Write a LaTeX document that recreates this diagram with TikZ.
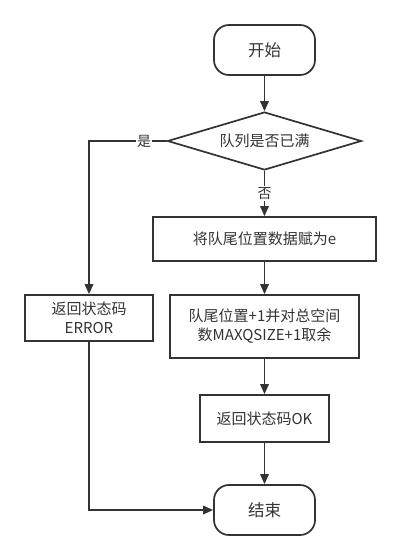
\documentclass[tikz,border=0pt]{standalone}
\usepackage{fontspec}
\setmainfont{Noto Sans CJK SC}
\usetikzlibrary{arrows.meta,shapes.geometric}
\definecolor{ink}{HTML}{333333}
\tikzset{
  x=1pt,y=-1pt,
  base/.style={draw=ink,line width=1.7pt,text=ink,font=\fontsize{15}{19}\selectfont,align=center,inner sep=0pt},
  term/.style={base,rounded corners=15pt,minimum width=101pt,minimum height=50pt,font=\fontsize{16.5}{20}\selectfont},
  proc/.style={base},
  dec/.style={base,diamond,aspect=3.34,minimum width=194pt,minimum height=58pt},
  flow/.style={draw=ink,line width=1.7pt,-{Triangle[length=10pt,width=8.5pt]}},
  lab/.style={text=ink,font=\fontsize{14}{16}\selectfont,fill=white,inner sep=1pt}
}
\begin{document}
\begin{tikzpicture}
\useasboundingbox (0,0) rectangle (401,560);
\node[term] (start) at (264.5,50) {开始};
\node[dec] (cond) at (264.5,141) {队列是否已满};
\node[proc,minimum width=223pt,minimum height=44pt] (p1) at (264.5,239) {将队尾位置数据赋为e};
\node[proc,minimum width=189pt,minimum height=63pt] (p2) at (264.5,326.5) {队尾位置+1并对总空间\\数MAXQSIZE+1取余};
\node[proc,minimum width=129pt,minimum height=47pt] (p3) at (264.5,418.5) {返回状态码OK};
\node[term] (stop) at (264.5,510) {结束};
\node[proc,minimum width=128pt,minimum height=46pt] (err) at (89,318) {返回状态码\\ERROR};
\coordinate (c1) at (89,141);
\coordinate (c2) at (89,510);
\draw[flow] (start) -- (cond);
\draw[flow] (cond.south) -- node[lab,pos=0.5]{否} (p1.north);
\draw[flow] (p1) -- (p2);
\draw[flow] (p2) -- (p3);
\draw[flow] (p3) -- (stop);
\draw[flow] (cond.west) -- node[lab,pos=0.29]{是} (c1) -- (err.north);
\draw[flow] (err.south) -- (c2) -- (stop.west);
\end{tikzpicture}
\end{document}
